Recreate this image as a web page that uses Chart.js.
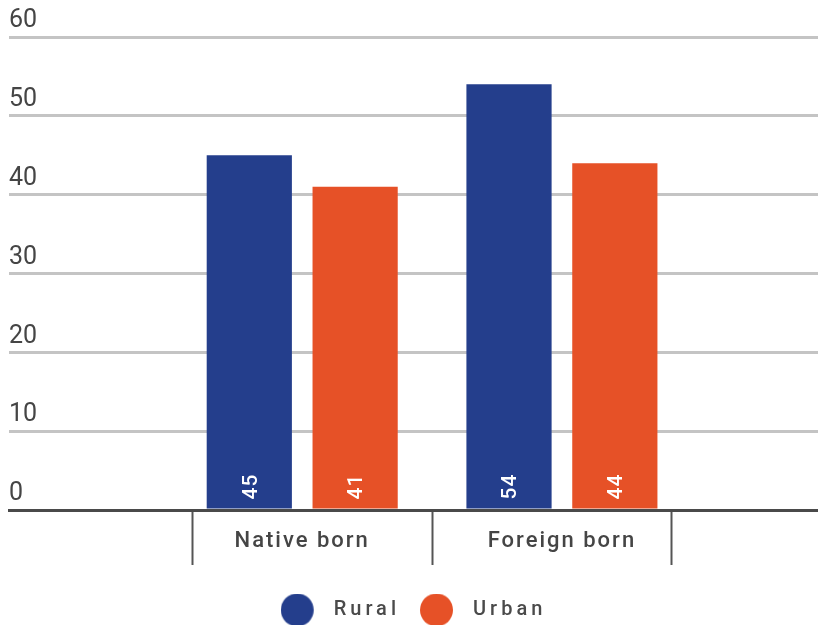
<!DOCTYPE html>
<html>
<head>
<meta charset="utf-8">
<script src="https://cdn.jsdelivr.net/npm/chart.js@4.4.1/dist/chart.umd.min.js"></script>
<style>
  body { margin: 0; background: #fff; }
  #wrap { width: 818px; height: 625px; }
</style>
</head>
<body>
<div id="wrap"><canvas id="chart"></canvas></div>
<script>
// data
const categories = ['Native born', 'Foreign born'];
const seriesNames = ['Rural', 'Urban'];
const rural = [45, 54];
const urban = [41, 44];

const colors = ['#243E8C', '#E65127'];
const dividers = [0.578, 1.5, 2.42]; // group separators below the axis, in x units
const xMin = -0.129, xMax = 2.986;

Chart.defaults.font.family = 'Roboto';

// legend dots: 33px circle, a bit of blank room on the right
function dot(color) {
    const c = document.createElement('canvas');
    c.width = 43;
    c.height = 33;
    const g = c.getContext('2d');
    g.fillStyle = color;
    g.beginPath();
    g.arc(16.5, 16.5, 16.5, 0, Math.PI * 2);
    g.fill();
    return c;
}
const dots = colors.map(dot);

// wrap a draw/fit method so its text gets some letter spacing
function spaced(obj, method, px) {
    const orig = obj[method];
    if (orig._spaced) return;
    const wrapped = function () {
        const prev = this.ctx.letterSpacing;
        this.ctx.letterSpacing = px;
        const r = orig.apply(this, arguments);
        this.ctx.letterSpacing = prev;
        return r;
    };
    wrapped._spaced = true;
    obj[method] = wrapped;
}

const spacing = {
    id: 'spacing',
    beforeLayout(chart) {
        spaced(chart.legend, 'fit', '4px');
        spaced(chart.legend, 'draw', '4px');
        spaced(chart.scales.x, 'drawLabels', '2px');
    }
};

// white rotated values at the foot of each bar
const barLabels = {
    id: 'barLabels',
    afterDatasetsDraw(chart) {
        const ctx = chart.ctx;
        ctx.save();
        ctx.fillStyle = '#fff';
        ctx.font = '500 21px Roboto';
        ctx.letterSpacing = '1px';
        ctx.textAlign = 'left';
        ctx.textBaseline = 'middle';
        chart.data.datasets.forEach((ds, di) => {
            chart.getDatasetMeta(di).data.forEach((bar, i) => {
                ctx.save();
                ctx.translate(bar.x + 2, bar.base - 9);
                ctx.rotate(-Math.PI / 2);
                ctx.fillText(String(ds.data[i].y), 0, 0);
                ctx.restore();
            });
        });
        ctx.restore();
    }
};

const toPoints = values => values.map((v, i) => ({ x: i + 1, y: v }));

new Chart(document.getElementById('chart'), {
    type: 'bar',
    data: {
        datasets: [
            { label: seriesNames[0], data: toPoints(rural), backgroundColor: colors[0], xAxisID: 'x' },
            { label: seriesNames[1], data: toPoints(urban), backgroundColor: colors[1], xAxisID: 'x' }
        ]
    },
    options: {
        responsive: true,
        maintainAspectRatio: false,
        animation: false,
        categoryPercentage: 0.815,
        barPercentage: 0.805,
        layout: { padding: { top: 37, left: 9, right: 0, bottom: -5 } },
        scales: {
            x: {
                type: 'linear',
                min: xMin,
                max: xMax,
                offset: false,
                afterBuildTicks: s => { s.ticks = categories.map((c, i) => ({ value: i + 1 })); },
                afterFit: s => { s.height = 70; },
                grid: { display: false, offset: false },
                border: { color: '#4a4a4a', width: 3 },
                ticks: {
                    padding: 10,
                    color: '#454545',
                    font: { size: 22, weight: '500' },
                    maxRotation: 0,
                    autoSkip: false,
                    callback: v => categories[v - 1]
                }
            },
            sep: {
                axis: 'x',
                type: 'linear',
                position: { y: 0 },
                min: xMin,
                max: xMax,
                offset: false,
                afterBuildTicks: s => { s.ticks = dividers.map(v => ({ value: v })); },
                grid: { offset: false, drawOnChartArea: false, drawTicks: true, tickLength: 55, tickWidth: 2, tickColor: '#555' },
                border: { display: false },
                ticks: { display: false }
            },
            y: {
                min: 0,
                max: 60,
                grid: { color: '#c4c4c4', lineWidth: 3, drawTicks: false },
                border: { display: false },
                ticks: {
                    stepSize: 10,
                    mirror: true,
                    padding: 0,
                    labelOffset: -16,
                    color: '#454545',
                    font: { size: 25 }
                }
            }
        },
        plugins: {
            tooltip: { enabled: false },
            legend: {
                position: 'bottom',
                labels: {
                    usePointStyle: true,
                    pointStyleWidth: 43,
                    padding: 20,
                    color: '#4a4a4a',
                    font: { size: 20, weight: '500' },
                    generateLabels: chart => Chart.defaults.plugins.legend.labels.generateLabels(chart)
                        .map((item, i) => Object.assign(item, { pointStyle: dots[i] }))
                }
            }
        }
    },
    plugins: [spacing, barLabels]
});
</script>
</body>
</html>
